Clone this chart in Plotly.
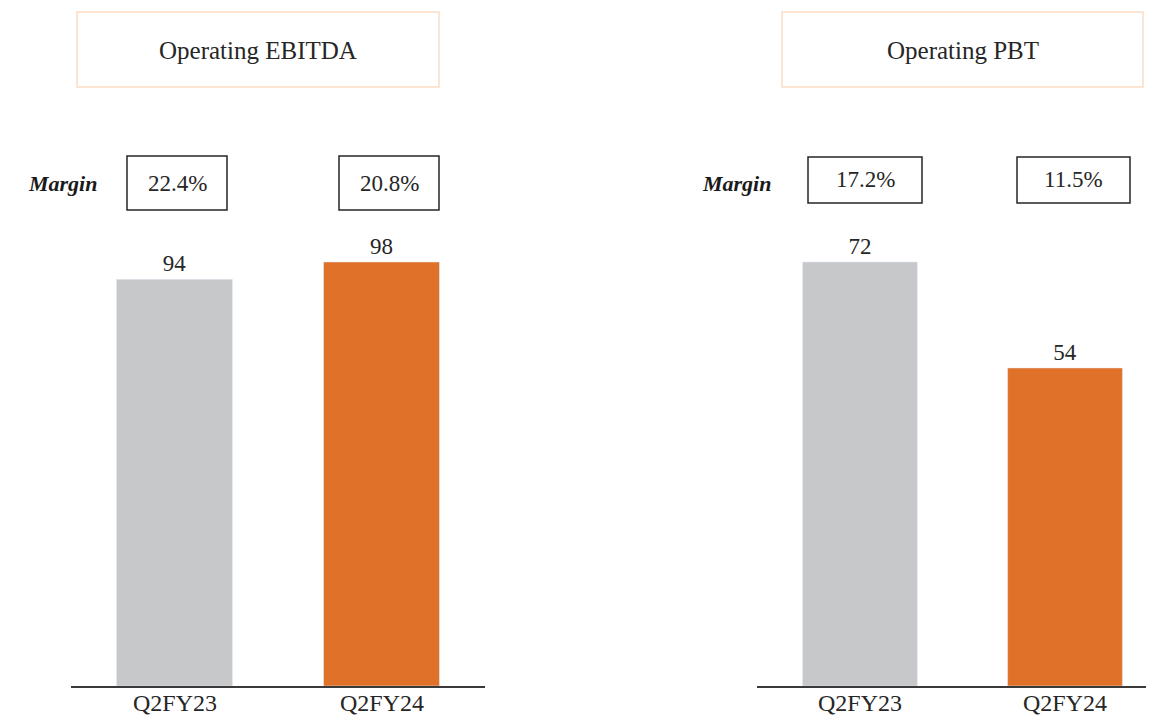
import plotly.graph_objects as go

# ---- data ----
categories = ["Q2FY23", "Q2FY24"]
ebitda_values = [94, 98]
pbt_values = [72, 54]
ebitda_margins = ["22.4%", "20.8%"]
pbt_margins = ["17.2%", "11.5%"]
panel_titles = ["Operating EBITDA", "Operating PBT"]
bar_colors = ["#C7C8CA", "#E07128"]

OFF = 8  # page body margin
W, H = 1154 - OFF, 725 - OFF
FONT = "Liberation Serif"


def px(x):
    return (x - OFF) / W


def py(y):
    return 1 - (y - OFF) / H


fig = go.Figure()

fig.add_trace(go.Bar(
    x=categories, y=ebitda_values, marker_color=bar_colors, width=0.56,
    text=[str(v) for v in ebitda_values], textposition="outside",
    textfont=dict(family=FONT, size=23, color="#262626"),
    cliponaxis=False, xaxis="x", yaxis="y", showlegend=False, hoverinfo="skip",
))
fig.add_trace(go.Bar(
    x=categories, y=pbt_values, marker_color=bar_colors, width=0.56,
    text=[str(v) for v in pbt_values], textposition="outside",
    textfont=dict(family=FONT, size=23, color="#262626"),
    cliponaxis=False, xaxis="x2", yaxis="y2", showlegend=False, hoverinfo="skip",
))

ydom = [py(686), py(230)]
axis_common = dict(
    showline=True, linecolor="#3a3a3a", linewidth=1.5, ticks="",
    showgrid=False, zeroline=False, type="category", showticklabels=False,
)
yaxis_common = dict(visible=False, showgrid=False, zeroline=False)

fig.update_layout(
    width=W, height=H,
    margin=dict(l=0, r=0, t=0, b=0),
    paper_bgcolor="white", plot_bgcolor="white",
    font=dict(family=FONT),
    xaxis=dict(domain=[px(71), px(485)], range=[-0.5, 1.5], anchor="y", **axis_common),
    yaxis=dict(domain=ydom, range=[0, 105.4], anchor="x", **yaxis_common),
    xaxis2=dict(domain=[px(757), 1.0], range=[-0.502, 1.434], anchor="y2", **axis_common),
    yaxis2=dict(domain=ydom, range=[0, 77.43], anchor="x2", **yaxis_common),
)

shapes = []
annotations = []

# category labels under each axis
for xref in ["x", "x2"]:
    for c in categories:
        annotations.append(dict(xref=xref, yref="paper", x=c, y=py(703),
                                text=c, showarrow=False, xanchor="center", yanchor="middle",
                                font=dict(family=FONT, size=24, color="#262626")))

# title boxes
for (x0, x1), title in zip([(77, 439), (782, 1143)], panel_titles):
    shapes.append(dict(type="rect", xref="paper", yref="paper",
                       x0=px(x0), x1=px(x1), y0=py(87), y1=py(12),
                       line=dict(color="#FBDDC4", width=1.5), fillcolor="rgba(0,0,0,0)"))
    annotations.append(dict(xref="paper", yref="paper", x=px((x0 + x1) / 2), y=py(51),
                            text=title, showarrow=False, xanchor="center", yanchor="middle",
                            font=dict(family=FONT, size=25, color="#262626")))

# margin boxes
margin_boxes = [
    ((127, 227, 156, 210), ebitda_margins[0]),
    ((339, 439, 156, 210), ebitda_margins[1]),
    ((808, 922, 157, 203), pbt_margins[0]),
    ((1017, 1130, 157, 203), pbt_margins[1]),
]
for (x0, x1, y0, y1), label in margin_boxes:
    shapes.append(dict(type="rect", xref="paper", yref="paper",
                       x0=px(x0), x1=px(x1), y0=py(y1), y1=py(y0),
                       line=dict(color="#262626", width=1.5), fillcolor="rgba(0,0,0,0)"))
    annotations.append(dict(xref="paper", yref="paper", x=px((x0 + x1) / 2), y=py((y0 + y1) / 2),
                            text=label, showarrow=False, xanchor="center", yanchor="middle",
                            font=dict(family=FONT, size=23, color="#262626")))

for xr in [99, 773]:
    annotations.append(dict(xref="paper", yref="paper", x=px(xr), y=py(183),
                            text="<b><i>Margin</i></b>", showarrow=False,
                            xanchor="right", yanchor="middle",
                            font=dict(family=FONT, size=22, color="#1a1a1a")))

fig.update_layout(shapes=shapes, annotations=annotations)

fig.write_html("out.html")
